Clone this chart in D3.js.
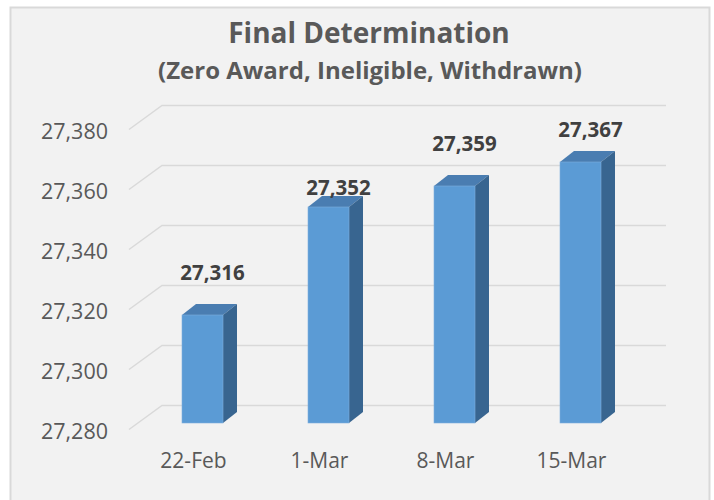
<!DOCTYPE html>
<html>
<head>
<meta charset="utf-8">
<script src="https://cdn.jsdelivr.net/npm/d3@7"></script>
<style>
  body { margin: 0; background: #ffffff; }
  text { font-family: "Open Sans", sans-serif; }
</style>
</head>
<body>
<div id="chart"></div>
<script>
const categories = ["22-Feb", "1-Mar", "8-Mar", "15-Mar"];
const values = [27316, 27352, 27359, 27367];
const yTicks = [27280, 27300, 27320, 27340, 27360, 27380];

let width = 714;
let height = 500;

// oblique 3d offsets (front -> back wall) and bar depth
let wallDx = 33, wallDy = -24;
let barDx = 14, barDy = -11;
let barW = 41;

let svg = d3.select("#chart")
  .append("svg")
    .attr("width", width)
    .attr("height", height)

svg.append("rect")
  .attr("x", 10.5).attr("y", 7.5)
  .attr("width", 699).attr("height", 500)
  .attr("fill", "#f2f2f2")
  .attr("stroke", "#d9d9d9")
  .attr("stroke-width", 2)

svg.append("text")
  .attr("x", 369).attr("y", 43)
  .attr("text-anchor", "middle")
  .attr("font-size", 28).attr("font-weight", "bold")
  .attr("fill", "#595959")
  .text("Final Determination")

svg.append("text")
  .attr("x", 370).attr("y", 79)
  .attr("text-anchor", "middle")
  .attr("font-size", 24).attr("font-weight", "bold")
  .attr("fill", "#595959")
  .text("(Zero Award, Ineligible, Withdrawn)")

// back wall scale
let yWall = d3.scaleLinear()
  .domain([27280, 27380])
  .range([405.5, 105.5]);

let xWallLeft = 162, xWallRight = 666;

// gridlines: diagonal on floor side + horizontal on back wall
let grid = svg.append("g")
  .attr("fill", "none")
  .attr("stroke", "#d9d9d9")
  .attr("stroke-width", 1.5)

grid.selectAll("path")
  .data(yTicks)
  .enter()
  .append("path")
    .attr("d", d => {
      let y = yWall(d);
      return "M" + (xWallLeft - wallDx) + "," + (y - wallDy) + "L" + xWallLeft + "," + y + "L" + xWallRight + "," + y;
    })

// y axis labels on front plane
let yFront = d3.scaleLinear()
  .domain(yWall.domain())
  .range(yWall.range().map(r => r - wallDy + 2));

let yAxis = svg.append("g")
  .attr("transform", "translate(110,0)")
  .call(d3.axisLeft(yFront).tickValues(yTicks).tickFormat(d3.format(",")).tickSize(0).tickPadding(2))

yAxis.select(".domain").remove()
yAxis.selectAll("text")
  .attr("font-family", "Open Sans")
  .attr("font-size", 21.5)
  .attr("fill", "#595959")

// bars
let x = d3.scalePoint()
  .domain(categories)
  .range([202.5, 580.5]);

let yBar = d3.scaleLinear()
  .domain(yWall.domain())
  .range(yWall.range().map(r => r + 17.5));

let data = categories.map((c, i) => ({ cat: c, value: values[i] }));

let bars = svg.append("g")
  .selectAll("g")
  .data(data)
  .enter()
  .append("g")

// top face
bars.append("path")
  .attr("fill", "#4a7db1")
  .attr("d", d => {
    let x0 = x(d.cat) - barW / 2, x1 = x0 + barW, y0 = yBar(d.value);
    return "M" + x0 + "," + y0 + "L" + (x0 + barDx) + "," + (y0 + barDy) + "L" + (x1 + barDx) + "," + (y0 + barDy) + "L" + x1 + "," + y0 + "Z";
  })

// side face
bars.append("path")
  .attr("fill", "#386590")
  .attr("d", d => {
    let x1 = x(d.cat) + barW / 2, y0 = yBar(d.value), yb = yBar(27280);
    return "M" + x1 + "," + y0 + "L" + (x1 + barDx) + "," + (y0 + barDy) + "L" + (x1 + barDx) + "," + (yb + barDy) + "L" + x1 + "," + yb + "Z";
  })

// front face
bars.append("rect")
  .attr("x", d => x(d.cat) - barW / 2)
  .attr("y", d => yBar(d.value))
  .attr("width", barW)
  .attr("height", d => yBar(27280) - yBar(d.value))
  .attr("fill", "#5b9bd5")
  .attr("stroke", "#7fb0de")
  .attr("stroke-width", 0.6)

// value labels (two were moved by hand in the original)
let labelNudge = [0, 23, 0, 10];

svg.append("g")
  .selectAll("text")
  .data(data)
  .enter()
  .append("text")
    .attr("x", d => x(d.cat) + 10)
    .attr("y", (d, i) => yBar(d.value) - 35 + labelNudge[i])
    .attr("text-anchor", "middle")
    .attr("font-size", 20.5)
    .attr("font-weight", "bold")
    .attr("fill", "#404040")
    .text(d => d3.format(",")(d.value))

// category labels on front plane
svg.append("g")
  .selectAll("text")
  .data(categories)
  .enter()
  .append("text")
    .attr("x", d => x(d) - 9)
    .attr("y", 468)
    .attr("text-anchor", "middle")
    .attr("font-size", 21)
    .attr("fill", "#595959")
    .text(d => d)
</script>
</body>
</html>
